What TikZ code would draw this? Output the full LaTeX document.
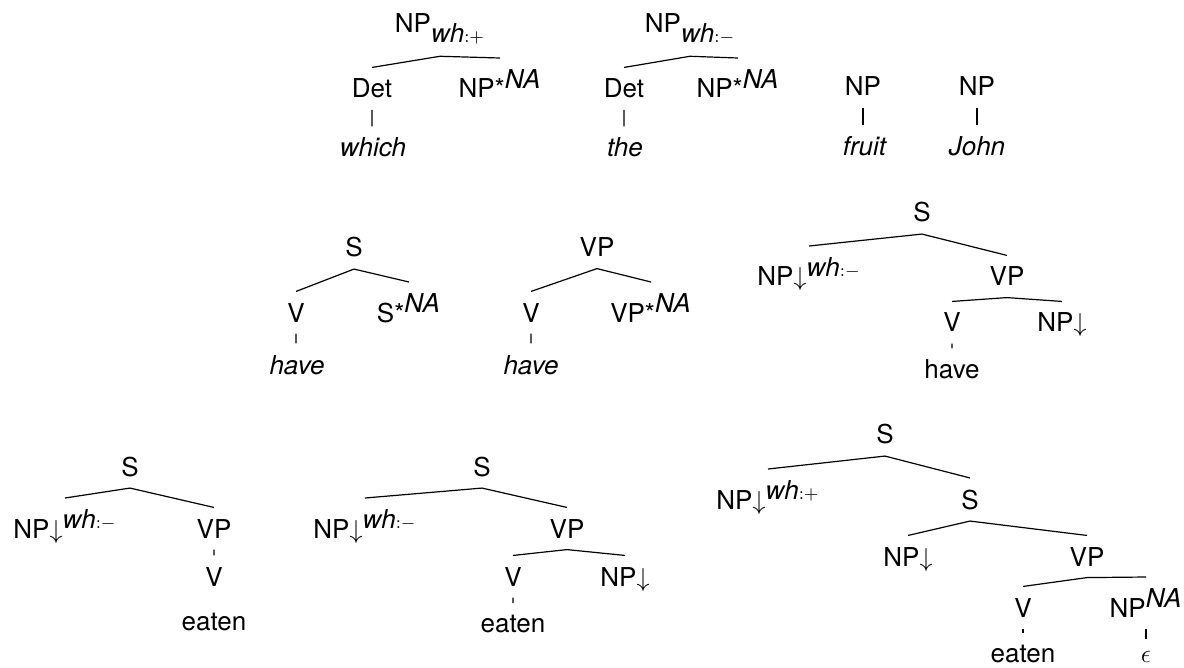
\RequirePackage{fix-cm}
\documentclass[tikz,border=0pt]{standalone}
\usepackage{fontspec}
\setmainfont{TeX Gyre Heros}

\begin{document}
\begin{tikzpicture}[x=0.5pt, y=-0.5pt, font=\fontsize{13}{15}\selectfont,
	lbl/.style={anchor=base, inner sep=5.5pt}, line width=0.6pt]
	\useasboundingbox (0,0) rectangle (1184,668);
	% initial trees
	\node[lbl] (a0) at (440,33) {NP$_{\textit{wh}:+}$};
	\node[lbl] (a1) at (372,98) {Det};
	\node[lbl] (a2) at (500,98) {NP*$^{\textit{NA}}$};
	\node[lbl] (a3) at (373,157) {\textit{which}};
	\draw (a0.south) -- (a1.north) (a0.south) -- (a2.north) (a1.south) -- (a1.south |- a3.north);

	\node[lbl] (b0) at (690,33) {NP$_{\textit{wh}:-}$};
	\node[lbl] (b1) at (624,98) {Det};
	\node[lbl] (b2) at (738,98) {NP*$^{\textit{NA}}$};
	\node[lbl] (b3) at (625,157) {\textit{the}};
	\draw (b0.south) -- (b1.north) (b0.south) -- (b2.north) (b1.south) -- (b1.south |- b3.north);

	\node[lbl] (c0) at (863,96) {NP};
	\node[lbl] (c1) at (865,156) {\textit{fruit}};
	\draw (c0.south) -- (c0.south |- c1.north);
	\node[lbl] (d0) at (977,96) {NP};
	\node[lbl] (d1) at (977,156) {\textit{John}};
	\draw (d0.south) -- (d0.south |- d1.north);

	% auxiliary trees
	\node[lbl] (e0) at (354,257) {S};
	\node[lbl] (e1) at (296,322) {V};
	\node[lbl] (e2) at (409,322) {S*$^{\textit{NA}}$};
	\node[lbl] (e3) at (297,374) {\textit{have}};
	\draw (e0.south) -- (e1.north) (e0.south) -- (e2.north) (e1.south) -- (e1.south |- e3.north);

	\node[lbl] (f0) at (597,257) {VP};
	\node[lbl] (f1) at (531,322) {V};
	\node[lbl] (f2) at (651,322) {VP*$^{\textit{NA}}$};
	\node[lbl] (f3) at (531,374) {\textit{have}};
	\draw (f0.south) -- (f1.north) (f0.south) -- (f2.north) (f1.south) -- (f1.south |- f3.north);

	\node[lbl] (g0) at (922,222) {S};
	\node[lbl] (g1) at (809,286) {NP$\downarrow^{\textit{wh}:-}$};
	\node[lbl] (g2) at (1007,286) {VP};
	\node[lbl] (g3) at (952,332) {V};
	\node[lbl] (g4) at (1062,332) {NP$\downarrow$};
	\node[lbl] (g5) at (952,379) {have};
	\draw (g0.south) -- (g1.north) (g0.south) -- (g2.north);
	\draw (g2.south) -- (g3.north) (g2.south) -- (g4.north) (g3.south) -- (g5.north);

	% eaten
	\node[lbl] (h0) at (130,476) {S};
	\node[lbl] (h1) at (65,538) {NP$\downarrow^{\textit{wh}:-}$};
	\node[lbl] (h2) at (214,538) {VP};
	\node[lbl] (h3) at (214,586) {V};
	\node[lbl] (h4) at (214,630) {eaten};
	\draw (h0.south) -- (h1.north) (h0.south) -- (h2.north) (h2.south) -- (h3.north);

	\node[lbl] (i0) at (482,476) {S};
	\node[lbl] (i1) at (365,538) {NP$\downarrow^{\textit{wh}:-}$};
	\node[lbl] (i2) at (567,538) {VP};
	\node[lbl] (i3) at (513,586) {V};
	\node[lbl] (i4) at (625,586) {NP$\downarrow$};
	\node[lbl] (i5) at (513,632) {eaten};
	\draw (i0.south) -- (i1.north) (i0.south) -- (i2.north);
	\draw (i2.south) -- (i3.north) (i2.south) -- (i4.north) (i3.south) -- (i5.north);

	\node[lbl] (j0) at (885,444) {S};
	\node[lbl] (j1) at (768,509) {NP$\downarrow^{\textit{wh}:+}$};
	\node[lbl] (j2) at (970,509) {S};
	\node[lbl] (j3) at (908,566) {NP$\downarrow$};
	\node[lbl] (j4) at (1087,566) {VP};
	\node[lbl] (j5) at (1023,617) {V};
	\node[lbl] (j6) at (1146,617) {NP$^{\textit{NA}}$};
	\node[lbl] (j7) at (1023,662) {eaten};
	\node[lbl] (j8) at (1146,662) {$\epsilon$};
	\draw (j0.south) -- (j1.north) (j0.south) -- (j2.north);
	\draw (j2.south) -- (j3.north) (j2.south) -- (j4.north);
	\draw (j4.south) -- (j5.north) (j4.south) -- (j6.north);
	\draw (j5.south) -- (j7.north) (j6.south) -- (j6.south |- j8.north);
\end{tikzpicture}
\end{document}
